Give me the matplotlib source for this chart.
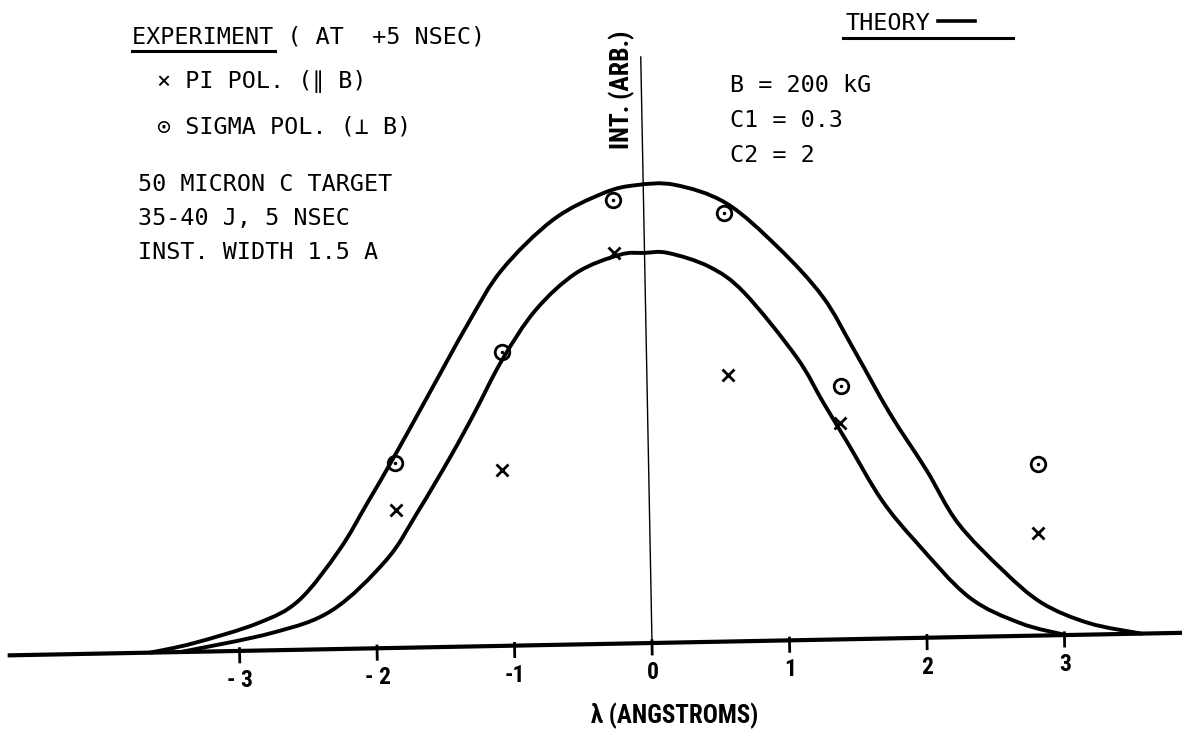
import matplotlib
matplotlib.use("Agg")
import matplotlib.pyplot as plt
from matplotlib import font_manager
from matplotlib.transforms import Affine2D
from matplotlib.lines import Line2D
from matplotlib.path import Path
from matplotlib.patches import PathPatch

W, H = 1182, 729

# Experiment (AT +5 NSEC), wavelength offset in Angstrom and intensity (arb.)
lam_sigma = [-1.84, -1.05, -0.22, 0.58, 1.41, 2.83]
int_sigma = [0.403, 0.640, 0.967, 0.934, 0.552, 0.374]
lam_pi = [-1.84, -1.07, -0.22, 0.59, 1.40, 2.82]
int_pi = [0.300, 0.383, 0.851, 0.581, 0.471, 0.224]

# Theory curves (B = 200 kG, C1 = 0.3, C2 = 2)
lam_upper = [-3.65, -3.33, -2.86, -2.56, -2.26, -2.05, -1.85, -1.60, -1.29, -1.04,
             -0.66, -0.29, -0.05, 0.23, 0.60, 0.97, 1.29, 1.51, 1.76, 2.02,
             2.24, 2.56, 2.84, 3.18, 3.56]
int_upper = [0.0, 0.019, 0.060, 0.108, 0.216, 0.317, 0.416, 0.545, 0.705, 0.819,
             0.926, 0.982, 0.998, 0.997, 0.955, 0.857, 0.747, 0.630, 0.491, 0.365,
             0.249, 0.144, 0.071, 0.025, 0.0]
lam_lower = [-3.43, -2.76, -2.32, -1.92, -1.69, -1.44, -1.26, -1.05, -0.80, -0.50,
             -0.18, 0.0, 0.17, 0.47, 0.72, 1.09, 1.28, 1.45, 1.69, 1.94,
             2.31, 2.68, 3.01]
int_lower = [0.0, 0.038, 0.085, 0.192, 0.293, 0.414, 0.508, 0.623, 0.730, 0.809,
             0.847, 0.850, 0.849, 0.817, 0.759, 0.617, 0.516, 0.428, 0.302, 0.207,
             0.087, 0.028, 0.0]

tick_vals = [-3, -2, -1, 0, 1, 2, 3]
tick_labels = ["- 3", "- 2", "-1", "0", "1", "2", "3"]


def first_font(names):
    have = {f.name for f in font_manager.fontManager.ttflist}
    for n in names:
        if n in have:
            return n
    return "DejaVu Sans"


def pen_curve(xs, ys):
    # smooth pen line through the read points (Bezier segments)
    pts = list(zip(xs, ys))
    verts = [pts[0]]
    codes = [Path.MOVETO]
    for i in range(len(pts) - 1):
        p0 = pts[i - 1] if i > 0 else pts[i]
        p1, p2 = pts[i], pts[i + 1]
        p3 = pts[i + 2] if i + 2 < len(pts) else p2
        c1 = (p1[0] + (p2[0] - p0[0]) / 6, p1[1] + (p2[1] - p0[1]) / 6)
        c2 = (p2[0] - (p3[0] - p1[0]) / 6, p2[1] - (p3[1] - p1[1]) / 6)
        verts += [c1, c2, p2]
        codes += [Path.CURVE4] * 3
    return Path(verts, codes)


narrow = first_font(["Liberation Sans Narrow", "DejaVu Sans Condensed", "Roboto Condensed", "DejaVu Sans"])
mono = "DejaVu Sans Mono"

fig = plt.figure(figsize=(W / 100, H / 100), dpi=100)
ax = fig.add_axes([0, 0, 1, 1])
ax.set_xlim(-652 / 137.5, (W - 652) / 137.5)
ax.set_ylim(-(H - 643) / 459, 643 / 459)
ax.axis("off")

# the scanned page is turned by about one degree
cx, cy = ax.transData.transform((0, 0))
tr = ax.transData + Affine2D().rotate_deg_around(cx, cy, 1.1)

x0, x1 = ax.get_xlim()
ax.plot([x0 + 0.07, x1 + 0.1], [0, 0], color="black", lw=3.0, transform=tr)
ax.plot([0, 0], [0, 1.277], color="black", lw=1.0, transform=tr)

for t, lab in zip(tick_vals, tick_labels):
    ax.plot([t, t], [0.005, -0.024], color="black", lw=2.0, transform=tr)
    ax.text(t, -0.064, lab, transform=tr, ha="center", va="center",
            fontsize=17, fontweight="bold", family=narrow)

for xs, ys in [(lam_upper, int_upper), (lam_lower, int_lower)]:
    ax.add_patch(PathPatch(pen_curve(xs, ys), fill=False, ec="black", lw=2.8,
                           capstyle="round", joinstyle="round", transform=tr))

ax.plot(lam_sigma, int_sigma, "o", ms=10.5, mfc="none", mec="black", mew=2.0, transform=tr)
ax.plot(lam_sigma, int_sigma, ".", ms=3, color="black", transform=tr)
ax.plot(lam_pi, int_pi, "x", ms=9, mec="black", mew=2.0, transform=tr)


def ftext(x, y, s, **kw):
    fig.text(x / W, 1 - y / H, s, **kw)


def uline(xa, xb, y, lw=2.2):
    fig.add_artist(Line2D([xa / W, xb / W], [1 - y / H, 1 - y / H], color="black", lw=lw))


tk = dict(family=[mono, "DejaVu Sans"], fontsize=16.8, va="baseline", ha="left")
ftext(132, 43, "EXPERIMENT ( AT  +5 NSEC)", **tk)
uline(132, 275, 51)
ftext(157, 88, "\u00d7 PI POL. (\u2225 B)", **tk)
ftext(157, 134, "\u2299 SIGMA POL. (\u22a5 B)", **tk)
ftext(138, 191, "50 MICRON C TARGET", **tk)
ftext(138, 225, "35-40 J, 5 NSEC", **tk)
ftext(138, 259, "INST. WIDTH 1.5 A", **tk)

ftext(845, 30, "THEORY", **tk)
uline(938, 975, 21, lw=2.6)
uline(843, 1013, 38)
ftext(730, 92, "B = 200 kG", **tk)
ftext(730, 127, "C1 = 0.3", **tk)
ftext(730, 162, "C2 = 2", **tk)

ftext(622, 90, "INT. (ARB.)", rotation=90, ha="center", va="center",
      fontsize=18.5, fontweight="bold", family=narrow)
ftext(675, 716, "\u03bb (ANGSTROMS)", ha="center", va="center",
      fontsize=18, fontweight="bold", family=[narrow, "DejaVu Sans"])

fig.savefig("out.png", dpi=100)
